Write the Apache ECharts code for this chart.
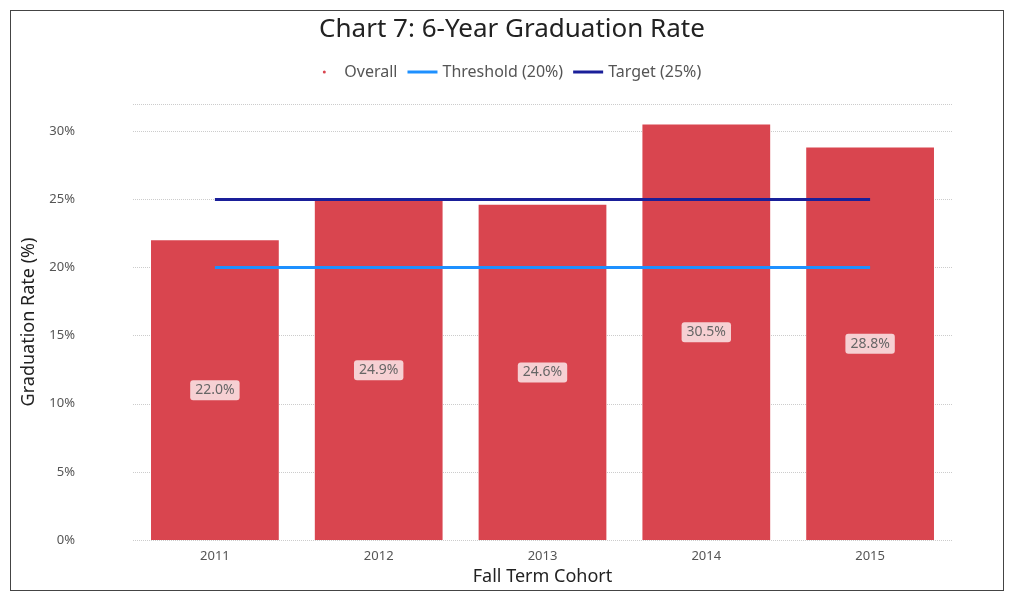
<!DOCTYPE html>
<html><head><meta charset="utf-8">
<script src="https://cdn.jsdelivr.net/npm/echarts@6/dist/echarts.min.js"></script>
<style>
html,body{margin:0;padding:0;background:#fff}
#frame{position:absolute;left:10px;top:10px;width:994px;height:581px;border:1px solid #444;box-sizing:border-box}
#main{position:absolute;left:0;top:0;width:1024px;height:615px}
</style></head>
<body>
<div id="frame"></div>
<div id="main"></div>
<script>
var years = ['2011', '2012', '2013', '2014', '2015'];
var overall = [22.0, 24.9, 24.6, 30.5, 28.8];
var threshold = [20, 20, 20, 20, 20];
var target = [25, 25, 25, 25, 25];

var chart = echarts.init(document.getElementById('main'));
var font = 'Noto Sans';
chart.setOption({
    title: {
        text: 'Chart 7: 6-Year Graduation Rate',
        left: 'center', top: 12,
        textStyle: {fontFamily: font, fontSize: 26, fontWeight: 'normal', color: '#222'}
    },
    legend: {
        top: 59, left: 'center', itemGap: 10,
        textStyle: {fontFamily: font, fontSize: 16, color: '#555'},
        data: [
            {name: 'Overall', icon: 'circle'},
            {name: 'Threshold (20%)', icon: 'rect'},
            {name: 'Target (25%)', icon: 'rect'}
        ],
        itemWidth: 30, itemHeight: 3
    },
    grid: {left: 133, right: 72, top: 104, bottom: 75},
    xAxis: {
        type: 'category', data: years,
        name: 'Fall Term Cohort', nameLocation: 'middle', nameGap: 28,
        nameTextStyle: {fontFamily: font, fontSize: 18, color: '#222'},
        axisLine: {show: false}, axisTick: {show: false},
        axisLabel: {fontFamily: font, fontSize: 13, color: '#555', margin: 10}
    },
    yAxis: {
        type: 'value', min: 0, max: 32, interval: 5,
        name: 'Graduation Rate (%)', nameLocation: 'middle', nameGap: 95,
        nameTextStyle: {fontFamily: font, fontSize: 18, color: '#222'},
        axisLabel: {fontFamily: font, fontSize: 13, color: '#555', margin: 58,
            formatter: function (v) { return v % 5 === 0 ? v + '%' : ''; }},
        splitLine: {lineStyle: {type: 'dotted', color: '#ccc'}}
    },
    series: [{
        name: 'Overall', type: 'bar', data: overall, barWidth: '78%',
        itemStyle: {color: '#d9454f'},
        label: {show: true, position: 'inside', formatter: function (p) { return p.value.toFixed(1) + '%'; },
            backgroundColor: 'rgba(255,255,255,0.75)', color: '#666', fontFamily: font, fontSize: 14,
            padding: [3, 5], borderRadius: 3}
    }, {
        name: 'Threshold (20%)', type: 'line', data: threshold, symbol: 'none',
        lineStyle: {color: '#1e90ff', width: 3}, itemStyle: {color: '#1e90ff'}
    }, {
        name: 'Target (25%)', type: 'line', data: target, symbol: 'none',
        lineStyle: {color: '#1a1f99', width: 3}, itemStyle: {color: '#1a1f99'}
    }]
});
</script>
</body></html>
